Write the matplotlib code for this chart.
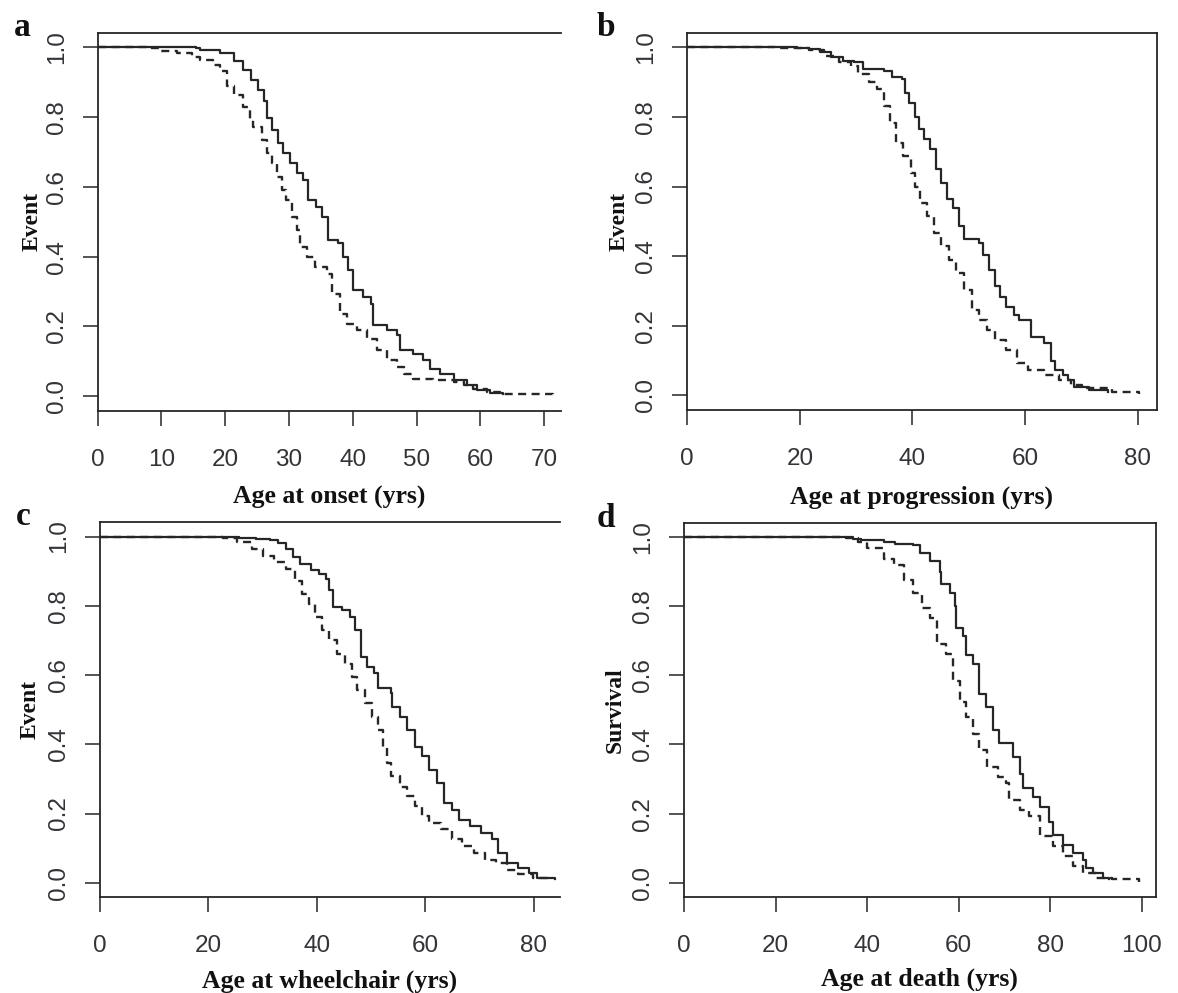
import matplotlib
matplotlib.use("Agg")
import matplotlib.pyplot as plt
from matplotlib.ticker import FixedLocator, FormatStrFormatter

W, H = 1178, 993

# ---- data (Kaplan-Meier style step curves) ----
# panel a: age at onset
onset_age_solid = [0, 15.4, 16.0, 19.2, 21.3, 22.8, 24.1, 25.2, 26.0, 26.5, 27.3, 28.3, 29.1, 30.1,
                   31.2, 32.2, 33.0, 34.3, 35.1, 36.1, 37.7, 38.5, 39.3, 40.1, 41.6, 42.9, 43.2,
                   45.3, 46.9, 47.4, 49.5, 51.0, 52.1, 53.7, 55.8, 57.9, 59.4, 61.5, 63.6]
onset_surv_solid = [1.0, 0.998, 0.993, 0.984, 0.96, 0.936, 0.907, 0.878, 0.845, 0.797, 0.763,
                    0.725, 0.696, 0.668, 0.639, 0.62, 0.562, 0.543, 0.514, 0.447, 0.438, 0.399,
                    0.361, 0.303, 0.284, 0.265, 0.203, 0.189, 0.174, 0.131, 0.122, 0.103, 0.079,
                    0.064, 0.045, 0.031, 0.016, 0.01, 0.007]
onset_age_dash = [0, 7.8, 9.6, 12.5, 14.8, 16.0, 18.1, 19.2, 20.2, 21.3, 22.8, 23.9, 24.4, 25.7,
                  26.5, 27.3, 28.1, 28.9, 29.6, 30.4, 31.2, 31.7, 32.8, 34.1, 35.9, 36.7, 38.0,
                  39.1, 40.6, 42.2, 43.8, 45.3, 46.9, 48.0, 49.5, 52.6, 55.8, 57.4, 58.9, 61.0,
                  63.1, 71.4]
onset_surv_dash = [1.0, 0.997, 0.99, 0.984, 0.972, 0.965, 0.95, 0.931, 0.888, 0.864, 0.83, 0.792,
                   0.773, 0.735, 0.696, 0.668, 0.629, 0.591, 0.562, 0.514, 0.476, 0.428, 0.399,
                   0.371, 0.351, 0.294, 0.236, 0.207, 0.189, 0.165, 0.131, 0.103, 0.084, 0.064,
                   0.05, 0.045, 0.04, 0.031, 0.021, 0.012, 0.007, 0.003]

# panel b: age at progression
prog_age_solid = [0, 19.5, 21.6, 23.6, 25.6, 27.6, 29.6, 31.3, 35.0, 36.4, 38.1, 38.7, 39.4, 40.4,
                  41.1, 42.1, 43.1, 44.1, 45.1, 46.1, 47.2, 48.2, 49.2, 51.9, 52.6, 53.6, 54.6,
                  55.6, 56.6, 58.0, 59.0, 61.0, 63.3, 64.7, 65.4, 66.7, 67.7, 68.7, 71.4, 74.8]
prog_surv_solid = [1.0, 0.998, 0.995, 0.986, 0.971, 0.962, 0.957, 0.938, 0.933, 0.914, 0.909, 0.87,
                   0.84, 0.80, 0.765, 0.736, 0.707, 0.65, 0.61, 0.563, 0.539, 0.486, 0.448, 0.438,
                   0.404, 0.361, 0.313, 0.284, 0.255, 0.23, 0.217, 0.169, 0.15, 0.10, 0.073, 0.059,
                   0.044, 0.025, 0.015, 0.011]
prog_age_dash = [0, 15.5, 18.9, 21.6, 24.3, 27.0, 29.0, 30.3, 32.3, 33.7, 35.0, 36.1, 37.1, 38.4,
                 39.8, 40.4, 41.4, 42.5, 43.8, 45.1, 46.5, 47.8, 49.2, 50.6, 51.9, 53.2, 54.6,
                 56.6, 58.6, 60.6, 63.3, 66.0, 68.1, 70.1, 75.5, 80.2]
prog_surv_dash = [1.0, 0.999, 0.997, 0.993, 0.976, 0.957, 0.947, 0.923, 0.90, 0.88, 0.832, 0.784,
                  0.726, 0.688, 0.64, 0.60, 0.553, 0.515, 0.467, 0.428, 0.39, 0.352, 0.304, 0.246,
                  0.217, 0.188, 0.159, 0.131, 0.092, 0.073, 0.059, 0.044, 0.03, 0.02, 0.011, 0.003]

# panel c: age at wheelchair
wheel_age_solid = [0, 25.7, 28.7, 31.4, 32.8, 34.2, 35.5, 36.9, 38.9, 40.3, 41.7, 42.3, 43.0, 44.7,
                   46.1, 47.1, 48.1, 49.2, 50.5, 51.2, 53.6, 53.9, 55.3, 56.6, 58.0, 59.4, 60.7,
                   62.1, 63.5, 64.8, 66.2, 68.2, 70.3, 72.3, 73.3, 75.0, 77.0, 79.1, 80.5, 83.9]
wheel_surv_solid = [1.0, 0.996, 0.993, 0.99, 0.98, 0.964, 0.94, 0.921, 0.902, 0.893, 0.878, 0.845,
                    0.797, 0.787, 0.768, 0.729, 0.653, 0.624, 0.605, 0.562, 0.547, 0.509, 0.48,
                    0.442, 0.393, 0.365, 0.326, 0.288, 0.23, 0.211, 0.182, 0.163, 0.144, 0.125,
                    0.086, 0.058, 0.043, 0.029, 0.014, 0.012]
wheel_age_dash = [0, 19.9, 22.6, 25.3, 28.0, 30.1, 32.1, 34.2, 35.9, 37.2, 38.6, 39.6, 41.0, 42.3,
                  43.7, 45.1, 46.4, 47.4, 48.8, 50.2, 51.2, 52.2, 52.9, 53.6, 55.3, 56.6, 58.0,
                  59.4, 60.7, 62.8, 64.8, 66.8, 68.9, 70.9, 73.0, 75.0, 77.0, 79.8, 82.5]
wheel_surv_dash = [1.0, 0.998, 0.995, 0.984, 0.964, 0.945, 0.926, 0.907, 0.873, 0.835, 0.806,
                   0.768, 0.729, 0.70, 0.662, 0.633, 0.595, 0.557, 0.518, 0.48, 0.441, 0.393,
                   0.345, 0.307, 0.278, 0.25, 0.221, 0.192, 0.173, 0.154, 0.125, 0.106, 0.086,
                   0.067, 0.058, 0.038, 0.024, 0.014, 0.01]

# panel d: age at death
death_age_solid = [0, 37.0, 38.7, 43.7, 46.2, 50.1, 51.5, 53.7, 55.9, 56.2, 58.0, 59.1, 59.5, 60.9,
                   61.7, 63.1, 64.5, 66.0, 67.4, 68.9, 71.8, 73.3, 74.0, 76.2, 77.7, 79.8, 80.6,
                   82.8, 84.9, 87.1, 87.8, 89.3, 91.5, 92.9]
death_surv_solid = [1.0, 0.995, 0.99, 0.985, 0.98, 0.978, 0.954, 0.93, 0.90, 0.863, 0.839, 0.80,
                    0.738, 0.714, 0.66, 0.633, 0.547, 0.508, 0.441, 0.403, 0.364, 0.316, 0.273,
                    0.249, 0.22, 0.177, 0.139, 0.11, 0.086, 0.067, 0.043, 0.029, 0.014, 0.01]
death_age_dash = [0, 31.2, 35.3, 38.0, 40.0, 43.6, 45.8, 48.0, 50.1, 51.9, 53.7, 55.2, 57.3, 58.8,
                  60.2, 61.7, 63.1, 64.5, 66.3, 68.5, 70.3, 71.1, 73.3, 75.4, 77.7, 80.6, 82.8,
                  84.9, 87.1, 90.0, 93.6, 99.4]
death_surv_dash = [1.0, 0.999, 0.997, 0.985, 0.968, 0.935, 0.92, 0.877, 0.839, 0.796, 0.767, 0.69,
                   0.662, 0.585, 0.523, 0.479, 0.431, 0.384, 0.336, 0.307, 0.288, 0.24, 0.211,
                   0.192, 0.134, 0.105, 0.077, 0.048, 0.029, 0.014, 0.01, 0.003]

panel_letters = ["a", "b", "c", "d"]
x_labels = ["Age at onset (yrs)", "Age at progression (yrs)",
            "Age at wheelchair (yrs)", "Age at death (yrs)"]
y_labels = ["Event", "Event", "Event", "Survival"]
x_ticks = [[0, 10, 20, 30, 40, 50, 60, 70], [0, 20, 40, 60, 80],
           [0, 20, 40, 60, 80], [0, 20, 40, 60, 80, 100]]
y_ticks = [0.0, 0.2, 0.4, 0.6, 0.8, 1.0]

series = [
    (onset_age_solid, onset_surv_solid, onset_age_dash, onset_surv_dash),
    (prog_age_solid, prog_surv_solid, prog_age_dash, prog_surv_dash),
    (wheel_age_solid, wheel_surv_solid, wheel_age_dash, wheel_surv_dash),
    (death_age_solid, death_surv_solid, death_age_dash, death_surv_dash),
]

# ---- layout (pixel boxes: left, top, right, bottom) ----
boxes = [(97.7, 32.7, 560.7, 410.7), (687.3, 32.7, 1156.7, 410.0),
         (100.0, 522.0, 560.0, 897.3), (684.0, 522.5, 1155.5, 897.3)]
xmax = [72.6, 83.4, 84.8, 103.0]
full_box = [False, True, False, True]
letter_pos = [(22, 36), (606, 36), (23, 525), (606, 527)]
ylabel_x = [32, 619, 30, 615]
xlabel_y = [497, 497, 981, 979]

INK = "#262626"
TICK_INK = "#333338"

fig = plt.figure(figsize=(W / 100, H / 100), dpi=100)

for i in range(4):
    l, t, r, b = boxes[i]
    ax = fig.add_axes([l / W, 1 - b / H, (r - l) / W, (b - t) / H])
    xs, ys, xd, yd = series[i]
    ax.plot(xs, ys, drawstyle="steps-post", color=INK, lw=1.6)
    ax.plot(xd, yd, drawstyle="steps-post", color=INK, lw=1.7, dashes=(3.4, 2.3))

    ax.set_xlim(0, xmax[i])
    ax.set_ylim(-0.042, 1.042)
    ax.xaxis.set_major_locator(FixedLocator(x_ticks[i]))
    ax.yaxis.set_major_locator(FixedLocator(y_ticks))
    ax.yaxis.set_major_formatter(FormatStrFormatter("%.1f"))

    for name, sp in ax.spines.items():
        sp.set_color(INK)
        sp.set_linewidth(1.3)
    if not full_box[i]:
        ax.spines["right"].set_visible(False)

    ax.tick_params(axis="both", length=10.5, width=1.1, color=INK,
                   labelsize=17.5, labelcolor=TICK_INK)
    ax.tick_params(axis="x", pad=17)
    ax.tick_params(axis="y", pad=11, labelrotation=90)
    for lab in ax.get_xticklabels() + ax.get_yticklabels():
        lab.set_fontfamily("Liberation Sans")
    for lab in ax.get_yticklabels():
        lab.set_va("center")

    ax.set_xlabel(x_labels[i], fontfamily="Liberation Serif", fontweight="bold",
                  fontsize=18.5, color="#111111")
    ax.xaxis.set_label_coords(0.5, (b - xlabel_y[i]) / (b - t))
    ax.xaxis.label.set_va("center")
    ax.set_ylabel(y_labels[i], fontfamily="Liberation Serif", fontweight="bold",
                  fontsize=17, color="#111111")
    ax.yaxis.set_label_coords((ylabel_x[i] - l) / (r - l), 0.5)
    ax.yaxis.label.set_va("center")

    lx, ly = letter_pos[i]
    fig.text(lx / W, 1 - ly / H, panel_letters[i], fontfamily="Liberation Serif",
             fontweight="bold", fontsize=24, ha="center", va="baseline", color="#111111")

fig.savefig("out.png", dpi=100, facecolor="white")
